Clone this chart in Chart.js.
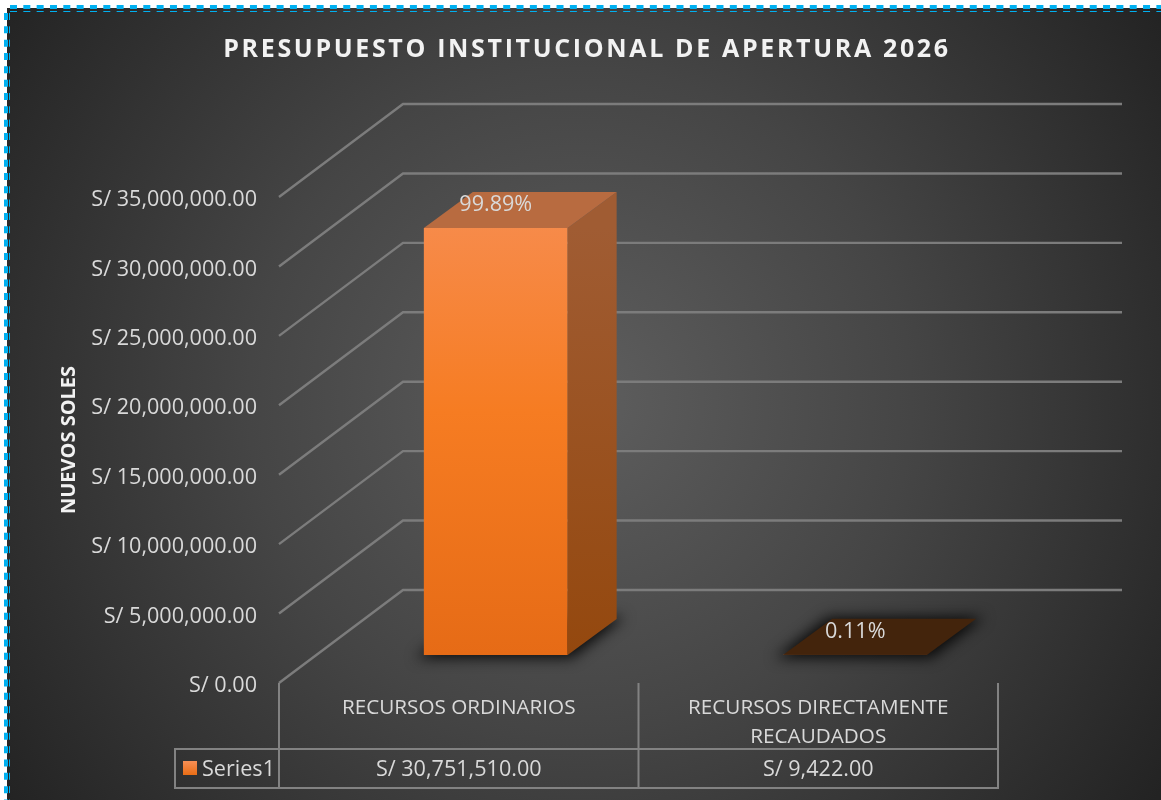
<!DOCTYPE html>
<html>
<head>
<meta charset="utf-8">
<title>Presupuesto Institucional de Apertura 2026</title>
<script src="https://cdn.jsdelivr.net/npm/chart.js@4"></script>
<style>
    html, body { margin: 0; padding: 0; background: #fff; overflow: hidden; }
    canvas { display: block; }
</style>
</head>
<body>
<canvas id="budget" width="1161" height="800"></canvas>
<script>
    "use strict";

    var chartTitle = "PRESUPUESTO INSTITUCIONAL DE APERTURA 2026";
    var categories = [["RECURSOS ORDINARIOS"], ["RECURSOS DIRECTAMENTE", "RECAUDADOS"]];
    var seriesName = "Series1";
    var seriesValues = [30751510, 9422];
    var percentLabels = ["99.89%", "0.11%"];
    var yTicks = [0, 5000000, 10000000, 15000000, 20000000, 25000000, 30000000, 35000000];

    var FONT = '"Open Sans", sans-serif';

    function soles(v) {
        return "S/ " + v.toLocaleString("en-US", {minimumFractionDigits: 2, maximumFractionDigits: 2});
    }

    // Fake 3D: the floor runs back by (124, -93), bars stand at 30% of that, 39.5% deep
    var wall = {dx: 124, dy: -93};
    var barFront = {dx: 37, dy: -28};
    var barDepth = {dx: 49, dy: -36};

    var frame3d = {
        id: "frame3d",
        beforeDraw: function (chart) {
            var c = chart.ctx;
            c.save();
            c.fillStyle = "#fff";
            c.fillRect(0, 0, 1161, 800);
            var g = c.createRadialGradient(580, 400, 30, 580, 400, 700);
            g.addColorStop(0, "#5c5c5c");
            g.addColorStop(0.45, "#454545");
            g.addColorStop(1, "#232323");
            c.fillStyle = g;
            c.fillRect(7, 8, 1154, 792);

            // dashed selection frame
            c.strokeStyle = "#00b0f0";
            c.setLineDash([7, 6.33]);
            c.lineWidth = 4;
            c.beginPath(); c.moveTo(10, 7); c.lineTo(1161, 7); c.stroke();
            c.beginPath(); c.moveTo(6, 13); c.lineTo(6, 800); c.stroke();
            c.lineWidth = 1;
            c.beginPath(); c.moveTo(10, 11.5); c.lineTo(1161, 11.5); c.stroke();
            c.beginPath(); c.moveTo(9.5, 13); c.lineTo(9.5, 800); c.stroke();
            c.setLineDash([]);

            // title
            c.fillStyle = "#f2f2f2";
            c.font = "bold 25px " + FONT;
            c.letterSpacing = "2.65px";
            c.textAlign = "center";
            c.textBaseline = "middle";
            c.fillText(chartTitle, 587, 50);
            c.letterSpacing = "0px";
            c.restore();
        },
        beforeDatasetsDraw: function (chart) {
            var c = chart.ctx, x = chart.scales.x, y = chart.scales.y;
            c.save();
            c.strokeStyle = "#7c7c7c";
            c.lineWidth = 2.4;
            yTicks.forEach(function (v) {
                var py = y.getPixelForValue(v);
                c.beginPath();
                c.moveTo(x.left, py);
                c.lineTo(x.left + wall.dx, py + wall.dy);
                c.lineTo(x.right + wall.dx, py + wall.dy);
                c.stroke();
            });

            // soft shadow under the bars, the shape itself stays off canvas
            chart.getDatasetMeta(0).data.forEach(function (bar) {
                var x0 = bar.x - bar.width / 2 + barFront.dx;
                var x1 = bar.x + bar.width / 2 + barFront.dx;
                var b = bar.base + barFront.dy;
                var off = 3000;
                c.save();
                c.shadowColor = "rgba(0,0,0,.85)";
                c.shadowBlur = 14;
                c.shadowOffsetX = off;
                c.fillStyle = "#000";
                c.beginPath();
                c.moveTo(x0 - 8 - off, b + 3);
                c.lineTo(x1 + 4 - off, b + 3);
                c.lineTo(x1 + barDepth.dx + 8 - off, b + barDepth.dy - 2);
                c.lineTo(x0 + barDepth.dx - 4 - off, b + barDepth.dy - 2);
                c.closePath();
                c.fill();
                c.restore();
            });
            c.restore();
        },
        beforeDatasetDraw: function (chart) {
            chart.ctx.save();
            chart.ctx.translate(barFront.dx, barFront.dy);
        },
        afterDatasetDraw: function (chart) {
            var c = chart.ctx;
            c.restore();
            c.save();
            chart.getDatasetMeta(0).data.forEach(function (bar, i) {
                var x1 = bar.x + bar.width / 2 + barFront.dx;
                var x0 = x1 - bar.width;
                var t = bar.y + barFront.dy;
                var b = bar.base + barFront.dy;

                if (b - t > 2) {
                    var side = c.createLinearGradient(0, t, 0, b);
                    side.addColorStop(0, "#a05c33");
                    side.addColorStop(1, "#94480e");
                    c.fillStyle = side;
                    c.beginPath();
                    c.moveTo(x1, t);
                    c.lineTo(x1 + barDepth.dx, t + barDepth.dy);
                    c.lineTo(x1 + barDepth.dx, b + barDepth.dy);
                    c.lineTo(x1, b);
                    c.closePath();
                    c.fill();
                }

                c.fillStyle = b - t > 2 ? "#b86b40" : "#43240c";
                c.beginPath();
                c.moveTo(x0, t);
                c.lineTo(x1, t);
                c.lineTo(x1 + barDepth.dx, t + barDepth.dy);
                c.lineTo(x0 + barDepth.dx, t + barDepth.dy);
                c.closePath();
                c.fill();

                c.fillStyle = "#d9d9d9";
                c.font = "21.6px " + FONT;
                c.textAlign = "center";
                c.textBaseline = "middle";
                c.fillText(percentLabels[i], bar.x + barFront.dx, t - 23.5);
            });
            c.restore();
        },
        afterDraw: function (chart) {
            // data table below the axis
            var c = chart.ctx, x = chart.scales.x;
            var top = 749, bottom = 788, left = 175;
            var cols = [x.left, (x.getPixelForValue(0) + x.getPixelForValue(1)) / 2, x.right];
            c.save();
            c.strokeStyle = "#828282";
            c.lineWidth = 2;
            c.strokeRect(left, top, x.right - left, bottom - top);
            cols.forEach(function (px) {
                c.beginPath();
                c.moveTo(px, chart.scales.y.bottom);
                c.lineTo(px, bottom);
                c.stroke();
            });

            var key = c.createLinearGradient(0, 761, 0, 775);
            key.addColorStop(0, "#f78f56");
            key.addColorStop(1, "#e96d15");
            c.fillStyle = key;
            c.fillRect(183, 761, 14, 14);

            c.fillStyle = "#d9d9d9";
            c.font = "21.6px " + FONT;
            c.textBaseline = "middle";
            c.textAlign = "left";
            c.fillText(seriesName, 202, 769.5);
            c.textAlign = "center";
            seriesValues.forEach(function (v, i) {
                c.fillText(soles(v), x.getPixelForValue(i), 769.5);
            });
            c.restore();
        }
    };

    function barFill(ctx) {
        var area = ctx.chart.chartArea;
        if (!area) return "#f57c20";
        var bar = ctx.chart.getDatasetMeta(0).data[ctx.dataIndex];
        var t = bar && bar.y ? bar.y : area.top;
        var g = ctx.chart.ctx.createLinearGradient(0, t, 0, area.bottom);
        g.addColorStop(0, "#f78f56");
        g.addColorStop(0.5, "#f67c22");
        g.addColorStop(1, "#e66b16");
        return g;
    }

    new Chart(document.getElementById("budget").getContext("2d"), {
        type: "bar",
        data: {
            labels: categories,
            datasets: [{
                label: seriesName,
                data: seriesValues,
                backgroundColor: barFill,
                borderWidth: 0,
                barPercentage: 0.4,
                categoryPercentage: 1,
                clip: false
            }]
        },
        plugins: [frame3d],
        options: {
            responsive: false,
            animation: false,
            layout: {padding: {top: 197, right: 163, left: 0, bottom: 0}},
            plugins: {
                legend: {display: false},
                tooltip: {enabled: false}
            },
            scales: {
                x: {
                    grid: {display: false},
                    border: {display: false},
                    afterFit: function (s) { s.height = 117; },
                    ticks: {
                        color: "#d9d9d9",
                        font: {family: FONT, size: 20.7, lineHeight: 1.4},
                        padding: 3,
                        maxRotation: 0,
                        autoSkip: false
                    }
                },
                y: {
                    min: 0,
                    max: 35000000,
                    grid: {display: false},
                    border: {display: false},
                    afterFit: function (s) { s.width = 279; },
                    ticks: {
                        stepSize: 5000000,
                        color: "#d9d9d9",
                        font: {family: FONT, size: 21.6},
                        padding: 14,
                        labelOffset: 3,
                        callback: function (v) { return soles(v); }
                    },
                    title: {
                        display: true,
                        text: "NUEVOS SOLES",
                        color: "#f2f2f2",
                        font: {family: FONT, size: 20, weight: "bold"},
                        padding: {top: 57, bottom: 0}
                    }
                }
            }
        }
    });
</script>
</body>
</html>
